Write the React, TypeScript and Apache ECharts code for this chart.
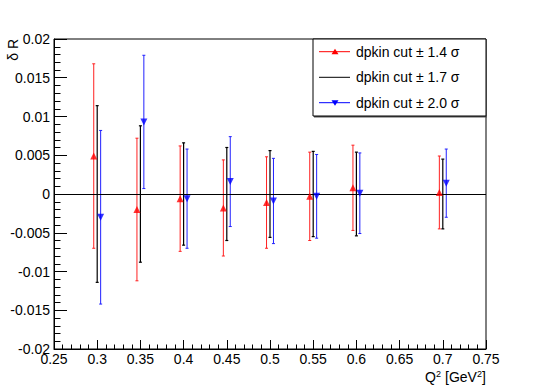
import React, { useEffect, useRef } from "react";
import * as echarts from "echarts";

const xTicks = [0.25, 0.3, 0.35, 0.4, 0.45, 0.5, 0.55, 0.6, 0.65, 0.7, 0.75];
const yTicks = [-0.02, -0.015, -0.01, -0.005, 0, 0.005, 0.01, 0.015, 0.02];

const xRed = [0.296, 0.346, 0.396, 0.446, 0.496, 0.546, 0.596, 0.696];
const redValues = [0.0049, -0.002, -0.0006, -0.0018, -0.0011, -0.0003, 0.0008, 0.0002];
const redErrors = [0.0119, 0.0092, 0.0068, 0.0062, 0.0059, 0.0057, 0.0055, 0.0047];

const xBlack = [0.3, 0.35, 0.4, 0.45, 0.5, 0.55, 0.6, 0.7];
const blackValues = [0, 0, 0, 0, 0, 0, 0, 0];
const blackErrors = [0.0114, 0.0088, 0.0066, 0.006, 0.0056, 0.0055, 0.0054, 0.0045];

const xBlue = [0.304, 0.354, 0.404, 0.454, 0.504, 0.554, 0.604, 0.704];
const blueValues = [-0.003, 0.0093, -0.0006, 0.0016, -0.0009, -0.0003, 0.0001, 0.0014];
const blueErrors = [0.0112, 0.0086, 0.0064, 0.0058, 0.0055, 0.0054, 0.0052, 0.0044];

const legendLabels = ["dpkin cut ± 1.4 σ", "dpkin cut ± 1.7 σ", "dpkin cut ± 2.0 σ"];

const FONT = "Liberation Sans, Arial, Helvetica, sans-serif";

const fmt = (v: number) => String(parseFloat(Number(v).toFixed(4)));

function errorSeries(xs: number[], ys: number[], es: number[], color: string, width: number) {
  return {
    type: "custom",
    silent: true,
    z: 3,
    data: xs.map((x, i) => [x, ys[i], es[i]]),
    encode: { x: 0, y: 1 },
    renderItem: (_params: any, api: any) => {
      const x = api.value(0);
      const y = api.value(1);
      const e = api.value(2);
      const top = api.coord([x, y + e]);
      const bot = api.coord([x, y - e]);
      const c = 1.5;
      const style = { stroke: color, lineWidth: width };
      return {
        type: "group",
        children: [
          { type: "line", shape: { x1: top[0], y1: top[1], x2: bot[0], y2: bot[1] }, style },
          { type: "line", shape: { x1: top[0] - c, y1: top[1], x2: top[0] + c, y2: top[1] }, style },
          { type: "line", shape: { x1: bot[0] - c, y1: bot[1], x2: bot[0] + c, y2: bot[1] }, style },
        ],
      };
    },
  };
}

function txt(text: string, x: number, y: number, size: number, align = "left") {
  return {
    type: "text",
    x,
    y,
    z: 12,
    style: { text, fontSize: size, fontFamily: FONT, fill: "#000", align, verticalAlign: "middle" },
  };
}

export default function App() {
  const ref = useRef<HTMLDivElement>(null);
  useEffect(() => {
    if (!ref.current) return;
    const chart = echarts.init(ref.current, undefined, { renderer: "svg" });
    const axisCommon = {
      type: "value",
      axisLine: { show: true, onZero: false, lineStyle: { color: "#000", width: 1 } },
      splitLine: { show: false },
    };
    const legendY = [51.7, 77.3, 102.7];
    const option: any = {
      animation: false,
      backgroundColor: "#fff",
      grid: {
        left: 54,
        top: 39,
        width: 432,
        height: 310,
        show: true,
        borderColor: "#000",
        borderWidth: 1,
        backgroundColor: "transparent",
      },
      xAxis: {
        ...axisCommon,
        min: xTicks[0],
        max: xTicks[xTicks.length - 1],
        interval: 0.05,
        axisTick: { show: true, inside: true, length: 9, lineStyle: { color: "#000" } },
        minorTick: { show: true, splitNumber: 5, length: 4.5, lineStyle: { color: "#000" } },
        axisLabel: { color: "#000", fontSize: 14, fontFamily: FONT, margin: 3, formatter: fmt, showMinLabel: true, showMaxLabel: true },
      },
      yAxis: {
        ...axisCommon,
        min: yTicks[0],
        max: yTicks[yTicks.length - 1],
        interval: 0.005,
        axisTick: { show: true, inside: true, length: 13, lineStyle: { color: "#000" } },
        minorTick: { show: true, splitNumber: 5, length: 6.5, lineStyle: { color: "#000" } },
        axisLabel: { color: "#000", fontSize: 14, fontFamily: FONT, margin: 4, formatter: fmt, showMinLabel: true, showMaxLabel: true },
      },
      series: [
        {
          type: "line",
          data: [],
          silent: true,
          markLine: {
            silent: true,
            symbol: ["none", "none"],
            label: { show: false },
            lineStyle: { color: "#000", width: 1, type: "solid" },
            data: [{ yAxis: 0 }],
          },
        },
        errorSeries(xBlack, blackValues, blackErrors, "#000", 1.2),
        errorSeries(xRed, redValues, redErrors, "#ff2020", 1),
        errorSeries(xBlue, blueValues, blueErrors, "#2020ff", 1),
        {
          type: "scatter",
          z: 5,
          symbol: "triangle",
          symbolSize: 7,
          itemStyle: { color: "#ff0000" },
          data: xRed.map((x, i) => [x, redValues[i]]),
        },
        {
          type: "scatter",
          z: 5,
          symbol: "triangle",
          symbolRotate: 180,
          symbolSize: 7,
          itemStyle: { color: "#0000ff" },
          data: xBlue.map((x, i) => [x, blueValues[i]]),
        },
      ],
      graphic: [
        {
          type: "text",
          x: 13,
          y: 39,
          rotation: Math.PI / 2,
          style: { text: "δ R", fontSize: 14, fontFamily: FONT, fill: "#000", align: "right", verticalAlign: "middle" },
        },
        txt("Q", 425, 377, 14),
        txt("2", 436, 374, 9),
        txt("[GeV", 445, 377, 14),
        txt("2", 477, 374, 9),
        txt("]", 482, 377, 14),
        {
          type: "rect",
          shape: { x: 314, y: 116, width: 173, height: 1.5 },
          style: { fill: "#555" },
          z: 10,
        },
        {
          type: "rect",
          shape: { x: 313, y: 39, width: 173, height: 77 },
          style: { fill: "#fff", stroke: "#000", lineWidth: 1 },
          z: 10,
        },
        ...legendY.map((y, i) => ({
          type: "line",
          z: 11,
          shape: { x1: 319, y1: y, x2: 350, y2: y },
          style: { stroke: ["#ff0000", "#000", "#0000ff"][i], lineWidth: 1 },
        })),
        {
          type: "polygon",
          z: 12,
          shape: { points: [[335, legendY[0] - 3], [338.5, legendY[0] + 2.5], [331.5, legendY[0] + 2.5]] },
          style: { fill: "#ff0000" },
        },
        {
          type: "polygon",
          z: 12,
          shape: { points: [[335, legendY[2] + 3], [338.5, legendY[2] - 2.5], [331.5, legendY[2] - 2.5]] },
          style: { fill: "#0000ff" },
        },
        ...legendLabels.map((t, i) => txt(t, 356, legendY[i], 14)),
      ],
    };
    chart.setOption(option);
    return () => chart.dispose();
  }, []);
  return (
    <div
      ref={ref}
      style={{ position: "fixed", left: 0, top: 0, width: 540, height: 388, background: "#fff" }}
    />
  );
}
